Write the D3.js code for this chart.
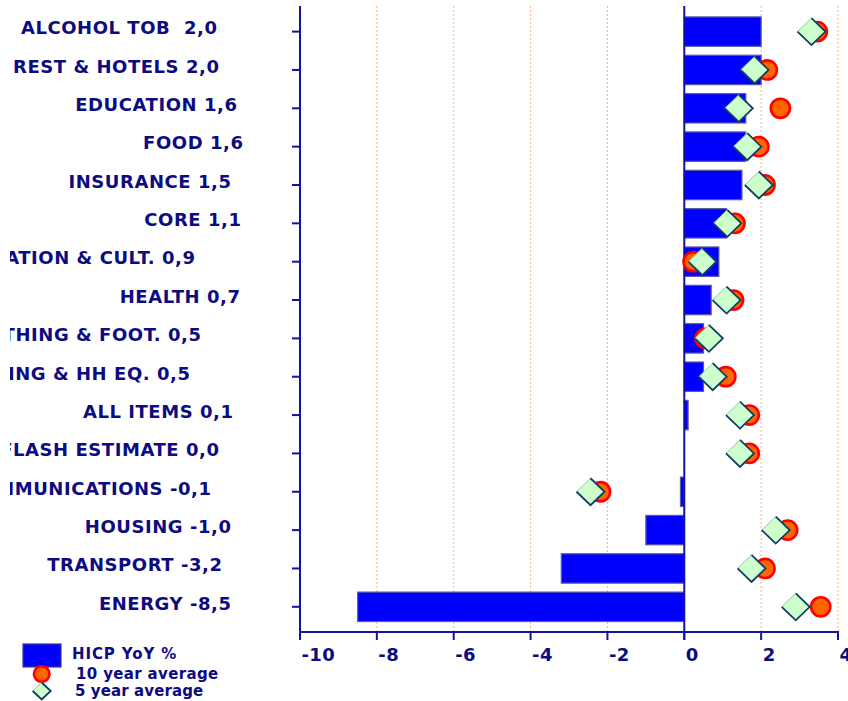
<!DOCTYPE html>
<html>
<head>
<meta charset="utf-8">
<script src="https://cdn.jsdelivr.net/npm/d3@7"></script>
<style>
  body { margin: 0; background: #ffffff; }
  svg { display: block; }
  text { font-family: "DejaVu Sans", Verdana, sans-serif; font-weight: bold; fill: #0c0c80; white-space: pre; }
</style>
</head>
<body>
<svg id="chart" width="848" height="701"></svg>
<script>
// HICP components, year-on-year % change, with 10- and 5-year averages
const categories = [
  "ALCOHOL TOB ", "REST & HOTELS", "EDUCATION", "FOOD", "INSURANCE", "CORE",
  "RECREATION & CULT.", "HEALTH", "CLOTHING & FOOT.", "FURNISHING & HH EQ.",
  "ALL ITEMS", "FLASH ESTIMATE", "COMMUNICATIONS", "HOUSING", "TRANSPORT", "ENERGY"
];
const hicpYoY = [2.0, 2.0, 1.6, 1.6, 1.5, 1.1, 0.9, 0.7, 0.5, 0.5, 0.1, 0.0, -0.1, -1.0, -3.2, -8.5];
const avg10y  = [3.46, 2.16, 2.50, 1.94, 2.10, 1.32, 0.23, 1.28, 0.54, 1.08, 1.69, 1.69, -2.18, 2.69, 2.10, 3.55];
const avg5y   = [3.31, 1.83, 1.42, 1.64, 1.94, 1.12, 0.47, 1.10, 0.64, 0.74, 1.45, 1.45, -2.44, 2.38, 1.75, 2.90];
const xTicks  = [-10, -8, -6, -4, -2, 0, 2, 4];
const legendLabels = ["HICP YoY %", "10 year average", "5 year average"];

// ---- layout ----
const W = 848, H = 701;
const plotLeft = 300, plotRight = 838, plotTop = 6, plotBottom = 632;
const axisColor = "#14149a";
// right edge of each category label (the label block is ragged)
const labelRight = [217, 219, 237, 243, 231, 241, 195, 240, 201, 190, 233, 219, 211, 231, 222, 231];

const svg = d3.select("#chart");

const x = d3.scaleLinear().domain([-10, 4]).range([plotLeft, plotRight]);
const y = d3.scalePoint().domain(d3.range(categories.length)).range([31.6, 606.8]);
const barH = y.step() * 0.767;

const fmt = v => v.toFixed(1).replace(".", ",");

// vertical dotted gridlines
svg.append("g").selectAll("line")
  .data(xTicks.filter(t => t !== 0 && t !== -10))
  .join("line")
  .attr("x1", d => x(d)).attr("x2", d => x(d))
  .attr("y1", plotTop).attr("y2", plotBottom)
  .attr("stroke", "#ffb27a").attr("stroke-width", 1)
  .attr("stroke-dasharray", "2,2");

// bars
svg.append("g").selectAll("rect")
  .data(hicpYoY)
  .join("rect")
  .attr("x", d => x(Math.min(0, d)))
  .attr("width", d => Math.abs(x(d) - x(0)))
  .attr("y", (d, i) => y(i) - barH / 2)
  .attr("height", barH)
  .attr("fill", "#0000ff")
  .attr("stroke", "#5a5aa8")
  .attr("stroke-width", 1.2);

// zero line
svg.append("line")
  .attr("x1", x(0)).attr("x2", x(0))
  .attr("y1", plotTop).attr("y2", plotBottom + 8)
  .attr("stroke", axisColor).attr("stroke-width", 2);

// left axis
svg.append("line")
  .attr("x1", plotLeft).attr("x2", plotLeft)
  .attr("y1", plotTop).attr("y2", plotBottom)
  .attr("stroke", axisColor).attr("stroke-width", 2);
svg.append("g").selectAll("line")
  .data(d3.range(categories.length))
  .join("line")
  .attr("x1", plotLeft - 8).attr("x2", plotLeft)
  .attr("y1", d => y(d)).attr("y2", d => y(d))
  .attr("stroke", axisColor).attr("stroke-width", 2);

// bottom axis
svg.append("line")
  .attr("x1", plotLeft - 1).attr("x2", plotRight + 1)
  .attr("y1", plotBottom).attr("y2", plotBottom)
  .attr("stroke", axisColor).attr("stroke-width", 2);
svg.append("g").selectAll("line")
  .data(xTicks)
  .join("line")
  .attr("x1", d => x(d)).attr("x2", d => x(d))
  .attr("y1", plotBottom).attr("y2", plotBottom + 8)
  .attr("stroke", axisColor).attr("stroke-width", 2);
svg.append("g").selectAll("text")
  .data(xTicks)
  .join("text")
  .attr("x", d => x(d) + 1.5)
  .attr("y", 661)
  .attr("font-size", 18)
  .attr("letter-spacing", 0.4)
  .text(d => String(d));

// category labels, clipped on the left edge
svg.append("clipPath").attr("id", "labelClip")
  .append("rect").attr("x", 10).attr("y", 0).attr("width", 280).attr("height", H);
svg.append("g").attr("clip-path", "url(#labelClip)")
  .selectAll("text")
  .data(categories)
  .join("text")
  .attr("x", (d, i) => labelRight[i] + 0.5)
  .attr("y", (d, i) => y(i) + 2.8)
  .attr("text-anchor", "end")
  .attr("font-size", 18)
  .attr("letter-spacing", 0.55)
  .text((d, i) => d + " " + fmt(hicpYoY[i]));

// marker shapes
function circleMark(sel, r) {
  sel.attr("r", r).attr("fill", "#ff6600").attr("stroke", "#ff0000").attr("stroke-width", 2.6);
}
function diamondPaths(g, cx, cy, hw, hh) {
  g.append("path")
    .attr("d", `M${cx - hw},${cy}L${cx},${cy - hh}L${cx + hw},${cy}L${cx},${cy + hh}Z`)
    .attr("fill", "#ccffcc")
    .attr("stroke", "#8fc9a8").attr("stroke-width", 1);
  g.append("path")
    .attr("d", `M${cx - hw},${cy}L${cx},${cy + hh}L${cx + hw},${cy}L${cx},${cy - hh}`)
    .attr("fill", "none")
    .attr("stroke", "#123e62").attr("stroke-width", 1.8)
    .attr("stroke-linejoin", "miter");
}

// 10 year average
svg.append("g").selectAll("circle")
  .data(avg10y)
  .join("circle")
  .attr("cx", d => x(d))
  .attr("cy", (d, i) => y(i))
  .call(circleMark, 9.6);

// 5 year average
const dg = svg.append("g");
avg5y.forEach((v, i) => diamondPaths(dg.append("g"), x(v), y(i), 14, 13.5));

// legend
const lg = svg.append("g");
lg.append("rect")
  .attr("x", 23).attr("y", 644).attr("width", 38).attr("height", 23)
  .attr("fill", "#0000ff").attr("stroke", "#3a3a90").attr("stroke-width", 1.2);
lg.append("circle").attr("cx", 41.7).attr("cy", 674).call(circleMark, 7.8);
diamondPaths(lg.append("g"), 41.7, 691, 9, 8.5);
lg.selectAll("text")
  .data(legendLabels)
  .join("text")
  .attr("x", (d, i) => [72, 76, 75][i])
  .attr("y", (d, i) => [659, 679, 696][i])
  .attr("font-size", 15)
  .attr("letter-spacing", (d, i) => [0.9, 0.35, 0.1][i])
  .text(d => d);
</script>
</body>
</html>
